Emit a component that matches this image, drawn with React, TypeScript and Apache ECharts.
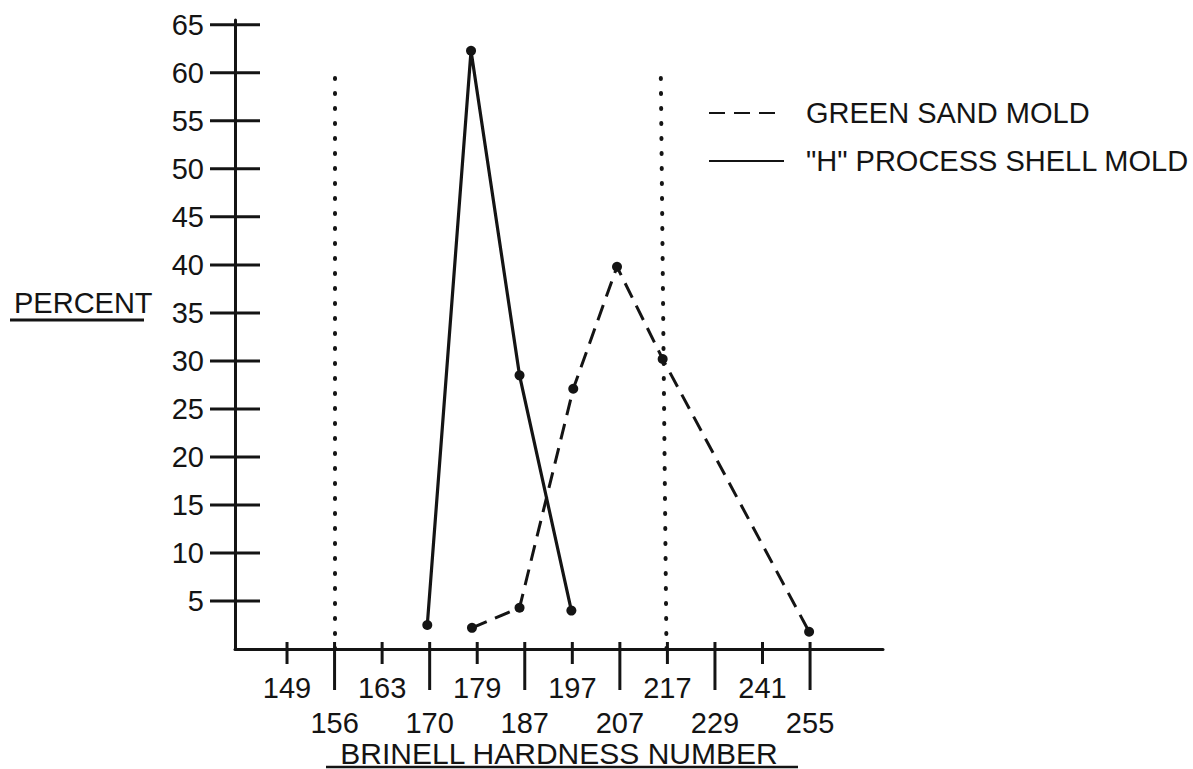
import React, { useEffect, useRef } from 'react';
import * as echarts from 'echarts';

// Brinell hardness tick labels (evenly spaced on the drawing, index 0..11)
const hardnessLabels = ['149', '156', '163', '170', '179', '187', '197', '207', '217', '229', '241', '255'];
const percentTicks = [5, 10, 15, 20, 25, 30, 35, 40, 45, 50, 55, 60, 65];

// "H" process shell mold (solid) — position on the hardness scale (tick index), percent
const shellPos = [2.95, 3.87, 4.89, 5.98];
const shellPct = [2.5, 62.3, 28.5, 4.0];

// Green sand mold (dashed)
const greenPos = [3.89, 4.89, 6.02, 6.94, 7.9, 10.98];
const greenPct = [2.2, 4.3, 27.1, 39.8, 30.2, 1.8];

// dotted limit lines (at 156 and 217)
const limitBottom = [1, 7.98];
const limitTop = [1, 7.86];
const limitHeight = 60.5;

const INK = '#141414';
const FONT = '"Liberation Sans", Arial, sans-serif';
const X_MIN = -1.094;
const X_MAX = 12.534;

const tickIdx = hardnessLabels.map((_, i) => i);
const upperRow = tickIdx.filter((i) => i % 2 === 0);
const lowerRow = tickIdx.filter((i) => i % 2 === 1);

export default function App() {
  const ref = useRef<HTMLDivElement>(null);

  useEffect(() => {
    if (!ref.current) return;
    const chart = echarts.init(ref.current, null, { renderer: 'svg' });

    const xTickData = tickIdx.map((i) => [i, i % 2]);
    const yTickData = percentTicks.map((v) => [X_MIN, v]);

    const labelStyle = { fontSize: 29, lineHeight: 29, color: INK, fontFamily: FONT };
    const baseX = {
      type: 'value',
      min: X_MIN,
      max: X_MAX,
      position: 'bottom',
      offset: 0,
      axisTick: { show: false },
      splitLine: { show: false },
    };

    const option: any = {
      animation: false,
      backgroundColor: '#ffffff',
      grid: { left: 235, right: 310, top: 20, bottom: 120, containLabel: false, outerBoundsMode: 'none' },
      legend: {
        data: ['GREEN SAND MOLD', '"H" PROCESS SHELL MOLD'],
        orient: 'vertical',
        left: 703,
        top: 93,
        itemWidth: 75,
        itemHeight: 30,
        itemGap: 18,
        selectedMode: false,
        itemStyle: { opacity: 0 },
        textStyle: { fontSize: 29, lineHeight: 30, color: INK, fontFamily: FONT, padding: [0, 0, 0, 17] },
      },
      xAxis: [
        {
          ...baseX,
          axisLine: { show: true, onZero: false, lineStyle: { color: INK, width: 3 } },
          axisLabel: {
            ...labelStyle,
            customValues: upperRow,
            showMinLabel: true,
            showMaxLabel: true,
            margin: 24,
            formatter: (v: number) => hardnessLabels[Math.round(v)] ?? '',
          },
          name: 'BRINELL HARDNESS NUMBER',
          nameLocation: 'middle',
          nameGap: 91,
          nameTextStyle: { fontSize: 30, lineHeight: 26, color: INK, fontFamily: FONT },
        },
        {
          ...baseX,
          axisLine: { show: false, onZero: false },
          axisLabel: {
            ...labelStyle,
            customValues: lowerRow,
            showMinLabel: true,
            showMaxLabel: true,
            margin: 59,
            formatter: (v: number) => hardnessLabels[Math.round(v)] ?? '',
          },
        },
      ],
      yAxis: {
        type: 'value',
        min: 0,
        max: 65.5,
        axisLine: { show: true, onZero: false, lineStyle: { color: INK, width: 3 } },
        axisTick: { show: false },
        splitLine: { show: false },
        axisLabel: {
          ...labelStyle,
          customValues: percentTicks,
          margin: 31,
        },
      },
      graphic: [
        {
          type: 'text',
          left: 14,
          top: 288,
          style: { text: 'PERCENT', fontSize: 29, fill: INK, fontFamily: FONT },
        },
        { type: 'line', shape: { x1: 10, y1: 320, x2: 144, y2: 320 }, style: { stroke: INK, lineWidth: 3 } },
        { type: 'line', shape: { x1: 326, y1: 767, x2: 798, y2: 767 }, style: { stroke: INK, lineWidth: 2.5 } },
      ],
      series: [
        {
          name: 'GREEN SAND MOLD',
          type: 'line',
          data: greenPos.map((x, i) => [x, greenPct[i]]),
          symbol: 'circle',
          symbolSize: 10,
          itemStyle: { color: INK },
          lineStyle: { color: INK, width: 3, type: [16, 9] },
          markLine: {
            silent: true,
            symbol: ['none', 'none'],
            label: { show: false },
            lineStyle: { color: INK, width: 4, type: [1, 14], cap: 'round' },
            data: limitBottom.map((b, i) => [
              { coord: [b, 0] },
              { coord: [limitTop[i], limitHeight] },
            ]),
          },
        },
        {
          name: '"H" PROCESS SHELL MOLD',
          type: 'line',
          data: shellPos.map((x, i) => [x, shellPct[i]]),
          symbol: 'circle',
          symbolSize: 10,
          itemStyle: { color: INK },
          lineStyle: { color: INK, width: 3.2, type: 'solid' },
        },
        {
          name: 'xTicks',
          type: 'custom',
          silent: true,
          clip: false,
          data: xTickData,
          renderItem: (params: any, api: any) => {
            const p = api.coord([api.value(0), 0]);
            const len = api.value(1) ? 41 : 15;
            return {
              type: 'line',
              shape: { x1: p[0], y1: p[1] - 7, x2: p[0], y2: p[1] + len },
              style: { stroke: INK, lineWidth: 3 },
            };
          },
        },
        {
          name: 'yTicks',
          type: 'custom',
          silent: true,
          clip: false,
          data: yTickData,
          renderItem: (params: any, api: any) => {
            const p = api.coord([api.value(0), api.value(1)]);
            return {
              type: 'line',
              shape: { x1: p[0] - 25, y1: p[1], x2: p[0] + 25, y2: p[1] },
              style: { stroke: INK, lineWidth: 3 },
            };
          },
        },
      ],
    };

    chart.setOption(option);
    return () => chart.dispose();
  }, []);

  return (
    <div
      ref={ref}
      style={{ position: 'absolute', left: 0, top: 0, width: 1193, height: 769, background: '#fff' }}
    />
  );
}
